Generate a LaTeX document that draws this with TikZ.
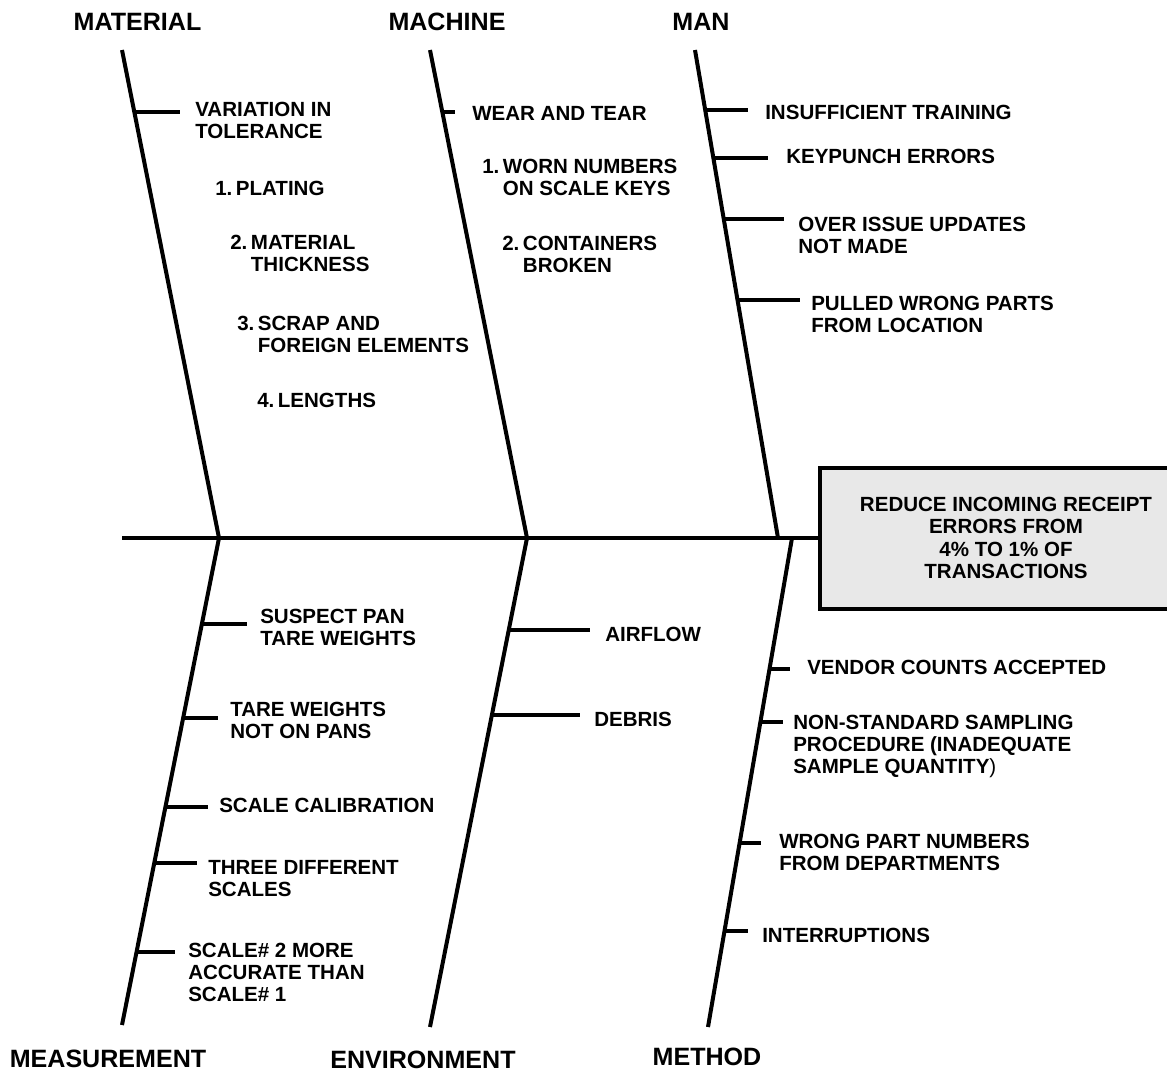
\documentclass[tikz,border=0pt]{standalone}
\usepackage{fontspec}
\setmainfont{Liberation Sans}
\usetikzlibrary{calc}
\definecolor{boxgray}{HTML}{E8E8E8}
\newcommand{\numlbl}[1]{\makebox[15.5pt][l]{#1}}
\newcommand{\hangind}{\hspace*{15.5pt}}
\begin{document}
\begin{tikzpicture}[x=0.75pt,y=-0.75pt,
  bone/.style={line width=3pt},
  rib/.style={line width=3pt},
  item/.style={anchor=north west, inner sep=0pt, align=left, font=\fontsize{15.4}{16.5}\selectfont\bfseries},
  title/.style={anchor=base, inner sep=0pt, font=\fontsize{18.8}{22}\selectfont\bfseries},
  effect/.style={draw, line width=3pt, fill=boxgray, align=center, inner sep=0pt,
    minimum width=279pt, minimum height=105.75pt, font=\fontsize{15.4}{16.7}\selectfont\bfseries}]
\useasboundingbox (0,0) rectangle (1167,1072);
\clip (0,0) rectangle (1167,1072);

% effect box and spine
\node[effect] (goal) at (1006,538) {REDUCE INCOMING RECEIPT\\ERRORS FROM\\4\% TO 1\% OF\\TRANSACTIONS};
\coordinate (tail) at (122,538);
\draw[bone] (tail) -- (goal.west);

% bone end points
\coordinate (matT) at (122,50);  \coordinate (matB) at (219,538);
\coordinate (macT) at (430,50);  \coordinate (macB) at (527,538);
\coordinate (manT) at (695,50);  \coordinate (manB) at (778,538);
\coordinate (meaB) at (122,1025);
\coordinate (envB) at (430,1027);
\coordinate (metT) at (792,538); \coordinate (metB) at (708,1027);

\draw[bone] (matT) -- (matB);
\draw[bone] (macT) -- (macB);
\draw[bone] (manT) -- (manB);
\draw[bone] (matB) -- (meaB);
\draw[bone] (macB) -- (envB);
\draw[bone] (metT) -- (metB);

% titles
\node[title] (tmat) at (137.5,30) {MATERIAL};
\node[title] (tmac) at (447,30) {MACHINE};
\node[title] (tman) at (701,30) {MAN};
\node[title] (tmea) at (108,1067) {MEASUREMENT};
\node[title] (tenv) at (423,1068) {ENVIRONMENT};
\node[title] (tmet) at (707,1065) {METHOD};

% ribs: material
\coordinate (rm1) at ($(matT)!0.127!(matB)$);
\draw[rib] (rm1) -- ++(46,0);
% machine
\coordinate (rc1) at ($(macT)!0.127!(macB)$);
\draw[rib] (rc1) -- ++(13,0);
% man
\coordinate (rn1) at ($(manT)!0.123!(manB)$);
\coordinate (rn2) at ($(manT)!0.221!(manB)$);
\coordinate (rn3) at ($(manT)!0.346!(manB)$);
\coordinate (rn4) at ($(manT)!0.512!(manB)$);
\draw[rib] (rn1) -- ++(43,0);
\draw[rib] (rn2) -- ++(55,0);
\draw[rib] (rn3) -- ++(60,0);
\draw[rib] (rn4) -- ++(62,0);
% measurement
\coordinate (rs1) at ($(matB)!0.177!(meaB)$);
\coordinate (rs2) at ($(matB)!0.370!(meaB)$);
\coordinate (rs3) at ($(matB)!0.552!(meaB)$);
\coordinate (rs4) at ($(matB)!0.667!(meaB)$);
\coordinate (rs5) at ($(matB)!0.850!(meaB)$);
\draw[rib] (rs1) -- ++(45,0);
\draw[rib] (rs2) -- ++(35,0);
\draw[rib] (rs3) -- ++(43,0);
\draw[rib] (rs4) -- ++(43,0);
\draw[rib] (rs5) -- ++(38,0);
% environment
\coordinate (re1) at ($(macB)!0.188!(envB)$);
\coordinate (re2) at ($(macB)!0.362!(envB)$);
\draw[rib] (re1) -- ++(81,0);
\draw[rib] (re2) -- ++(88,0);
% method
\coordinate (rt1) at ($(metT)!0.268!(metB)$);
\coordinate (rt2) at ($(metT)!0.376!(metB)$);
\coordinate (rt3) at ($(metT)!0.624!(metB)$);
\coordinate (rt4) at ($(metT)!0.804!(metB)$);
\draw[rib] (rt1) -- ++(21,0);
\draw[rib] (rt2) -- ++(23,0);
\draw[rib] (rt3) -- ++(21,0);
\draw[rib] (rt4) -- ++(24,0);

% texts: material
\node[item] (m1) at (195,102) {VARIATION IN\\TOLERANCE};
\node[item] (m2) at (215,181) {\numlbl{1.}PLATING};
\node[item] (m3) at (230,235) {\numlbl{2.}MATERIAL\\\hangind THICKNESS};
\node[item] (m4) at (237,316) {\numlbl{3.}SCRAP AND\\\hangind FOREIGN ELEMENTS};
\node[item] (m5) at (257,393) {\numlbl{4.}LENGTHS};
% machine
\node[item] (c1) at (472,106) {WEAR AND TEAR};
\node[item] (c2) at (482,159) {\numlbl{1.}WORN NUMBERS\\\hangind ON SCALE KEYS};
\node[item] (c3) at (502,236) {\numlbl{2.}CONTAINERS\\\hangind BROKEN};
% man
\node[item] (n1) at (765,105) {INSUFFICIENT TRAINING};
\node[item] (n2) at (786,149) {KEYPUNCH ERRORS};
\node[item] (n3) at (798,217) {OVER ISSUE UPDATES\\NOT MADE};
\node[item] (n4) at (811,296) {PULLED WRONG PARTS\\FROM LOCATION};
% measurement
\node[item] (s1) at (260,609) {SUSPECT PAN\\TARE WEIGHTS};
\node[item] (s2) at (230,702) {TARE WEIGHTS\\NOT ON PANS};
\node[item] (s3) at (219,798) {SCALE CALIBRATION};
\node[item] (s4) at (208,860) {THREE DIFFERENT\\SCALES};
\node[item] (s5) at (188,943) {SCALE\# 2 MORE\\ACCURATE THAN\\SCALE\# 1};
% environment
\node[item] (e1) at (605,627) {AIRFLOW};
\node[item] (e2) at (594,712) {DEBRIS};
% method
\node[item] (t1) at (807,660) {VENDOR COUNTS ACCEPTED};
\node[item] (t2) at (793,715) {NON-STANDARD SAMPLING\\PROCEDURE (INADEQUATE\\SAMPLE QUANTITY{\mdseries)}};
\node[item] (t3) at (779,834) {WRONG PART NUMBERS\\FROM DEPARTMENTS};
\node[item] (t4) at (762,928) {INTERRUPTIONS};
\end{tikzpicture}
\end{document}
